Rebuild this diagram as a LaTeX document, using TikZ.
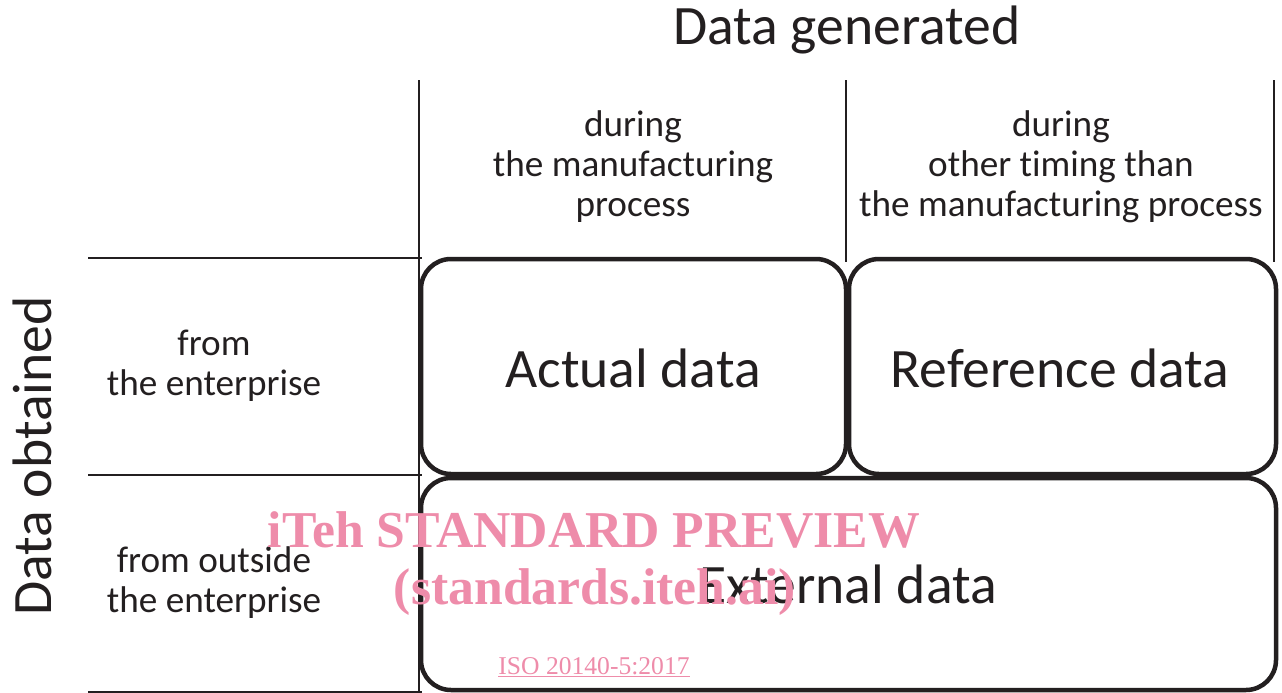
\documentclass[tikz,border=0pt]{standalone}
\usepackage{fontspec}
\setmainfont[Ligatures=NoCommon]{Carlito}
\newfontfamily\wmfont{Liberation Serif}
\definecolor{wmpink}{RGB}{238,140,170}
\definecolor{ink}{RGB}{35,31,32}
\begin{document}
\begin{tikzpicture}[x=1pt,y=-1pt,
  thinline/.style={draw=ink,line width=1.6pt},
  cellbox/.style={draw=ink,line width=4.5pt,rounded corners=30pt},
  bigtxt/.style={font=\fontsize{55.6}{60}\selectfont,text=ink,inner sep=0pt},
  smalltxt/.style={font=\fontsize{37.2}{40}\selectfont,text=ink,align=center,inner sep=0pt},
  wmtxt/.style={font=\wmfont\bfseries\fontsize{51.7}{60}\selectfont,text=wmpink,inner sep=0pt}]
\useasboundingbox (0,0) rectangle (1282,693);
% grid lines
\coordinate (v1t) at (419,80); \coordinate (v1b) at (419,693);
\coordinate (v2t) at (846,80); \coordinate (v2b) at (846,262);
\coordinate (v3t) at (1274,80); \coordinate (v3b) at (1274,262);
\coordinate (h1l) at (88,258); \coordinate (h1r) at (422,258);
\coordinate (h2l) at (88,475); \coordinate (h2r) at (422,475);
\coordinate (h3l) at (88,692); \coordinate (h3r) at (422,692);
\draw[thinline] (v1t) -- (v1b);
\draw[thinline] (v2t) -- (v2b);
\draw[thinline] (v3t) -- (v3b);
\draw[thinline] (h1l) -- (h1r);
\draw[thinline] (h2l) -- (h2r);
\draw[thinline] (h3l) -- (h3r);
% boxes
\draw[cellbox] (421,259) rectangle (846,474);
\draw[cellbox] (849,259) rectangle (1276,474);
\draw[cellbox] (421,478) rectangle (1276,690);
% titles
\node[bigtxt] (dg) at (847,30) {Data generated};
\node[bigtxt,rotate=90] (dob) at (32,456) {Data obtained};
% column headers
\node[smalltxt] (c1) at (633,167) {during\\the manufacturing\\process};
\node[smalltxt] (c2) at (1061,167) {during\\other timing than\\the manufacturing process};
% row headers
\node[smalltxt] (r1) at (214,366) {from\\the enterprise};
\node[smalltxt] (r2) at (214,583) {from outside\\the enterprise};
% box labels
\node[bigtxt] (ad) at (633,368) {Actual data};
\node[bigtxt] (rd) at (1060,368) {Reference data};
\node[bigtxt] (ed) at (848,584) {External data};
% watermark
\node[wmtxt] (w1) at (594,530) {iTeh STANDARD PREVIEW};
\node[wmtxt] (w2) at (595,592) {(standards.iteh.ai)};
\node[font=\wmfont\fontsize{25.6}{28}\selectfont,text=wmpink,inner sep=0pt] (w3) at (594,667) {\underline{ISO 20140-5:2017}};
\end{tikzpicture}
\end{document}
